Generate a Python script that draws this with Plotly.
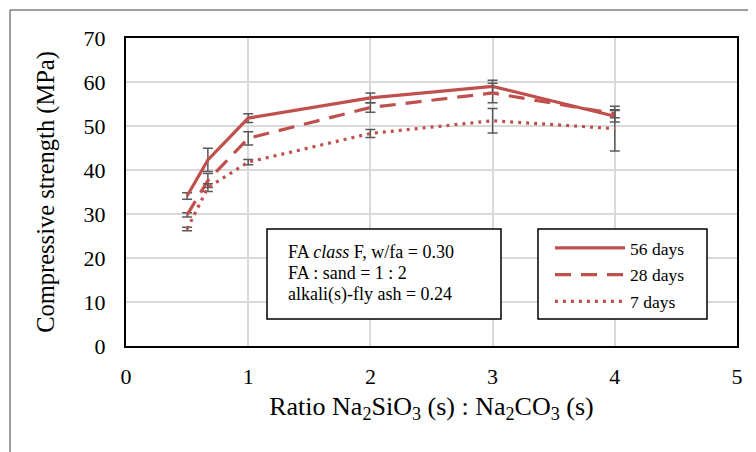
import plotly.graph_objects as go

ratio = [0.5, 0.67, 1, 2, 3, 4]
days56 = [34.1, 42.3, 51.8, 56.4, 59.0, 52.2]
err56 = [0.75, 2.65, 1.0, 1.1, 1.4, 1.3]
days28 = [29.8, 37.6, 47.2, 54.2, 57.5, 52.8]
err28 = [0.5, 1.6, 1.5, 1.1, 2.2, 0.9]
days7 = [26.6, 36.0, 41.8, 48.3, 51.2, 49.4]
err7 = [0.4, 0.9, 0.6, 0.9, 2.8, 5.1]

names = ["56 days", "28 days", "7 days"]
dashes = ["solid", "16px,10px", "3px,5px"]
series = [(days56, err56), (days28, err28), (days7, err7)]

info_lines = ["FA <i>class</i> F, w/fa = 0.30", "FA : sand = 1 : 2", "alkali(s)-fly ash = 0.24"]

RED = "#C0504D"
GREY = "#595959"
FONT = "Liberation Serif"

fig = go.Figure()
for i, (vals, errs) in enumerate(series):
    fig.add_trace(go.Scatter(
        x=ratio, y=vals, mode="lines", name=names[i],
        legendgroup=names[i],
        line=dict(color=RED, width=3.2, dash=dashes[i]),
        error_y=dict(type="data", array=errs, visible=True,
                     color=GREY, thickness=1.5, width=5),
    ))

# page offset (browser body margin)
OFF = 8
W, H = 756 - OFF, 452 - OFF
# plot area in reference pixel coords
PL, PR, PT, PB = 126, 737, 38, 346
L, R, T, B = PL - OFF, (756 - PR), PT - OFF, (452 - PB)
pw, ph = PR - PL, PB - PT

def px(xp):
    return (xp - PL) / pw

def py(yp):
    return (PB - yp) / ph

fig.update_layout(
    width=W, height=H,
    margin=dict(l=L, r=R, t=T, b=B, pad=0),
    paper_bgcolor="white", plot_bgcolor="white",
    font=dict(family=FONT, color="black"),
    showlegend=True,
    legend=dict(
        x=px(550), y=py(230), xanchor="left", yanchor="top",
        borderwidth=0, bgcolor="rgba(0,0,0,0)",
        font=dict(family=FONT, size=17.5), tracegroupgap=1,
        itemwidth=70,
    ),
    xaxis=dict(
        range=[0, 5], dtick=1, tick0=0,
        showgrid=True, gridcolor="#D9D9D9", gridwidth=1.5,
        showline=True, linecolor="black", linewidth=2, mirror=True,
        zeroline=False,
        ticks="outside", ticklen=10, tickcolor="rgba(0,0,0,0)",
        tickfont=dict(family=FONT, size=22),
        title=dict(text="Ratio Na<sub>2</sub>SiO<sub>3</sub> (s) : Na<sub>2</sub>CO<sub>3</sub> (s)",
                   font=dict(family=FONT, size=26), standoff=8),
    ),
    yaxis=dict(
        range=[0, 70], dtick=10, tick0=0,
        showgrid=True, gridcolor="#D9D9D9", gridwidth=1.5,
        showline=True, linecolor="black", linewidth=2, mirror=True,
        zeroline=False,
        ticks="outside", ticklen=14, tickcolor="rgba(0,0,0,0)",
        tickfont=dict(family=FONT, size=22),
        title=dict(text="Compressive strength (MPa)",
                   font=dict(family=FONT, size=24.5), standoff=22),
    ),
)

# outer frame
fig.add_shape(type="rect", xref="paper", yref="paper",
              x0=px(10), x1=px(780), y0=py(480), y1=py(10),
              line=dict(color="#404040", width=1), layer="below")

# legend frame
fig.add_shape(type="rect", xref="paper", yref="paper",
              x0=px(538), x1=px(707), y0=py(319), y1=py(229),
              line=dict(color="black", width=1.5), fillcolor="white",
              layer="above")

# info box
fig.add_shape(type="rect", xref="paper", yref="paper",
              x0=px(267), x1=px(501), y0=py(319), y1=py(229),
              line=dict(color="black", width=1.5), fillcolor="white")
for k, (line_text, yc) in enumerate(zip(info_lines, [252, 273, 294])):
    fig.add_annotation(
        xref="paper", yref="paper", x=px(287), y=py(yc),
        xanchor="left", yanchor="middle", align="left", showarrow=False,
        borderpad=0,
        text=line_text,
        font=dict(family=FONT, size=18, color="black"),
    )

fig.write_html("out.html")
